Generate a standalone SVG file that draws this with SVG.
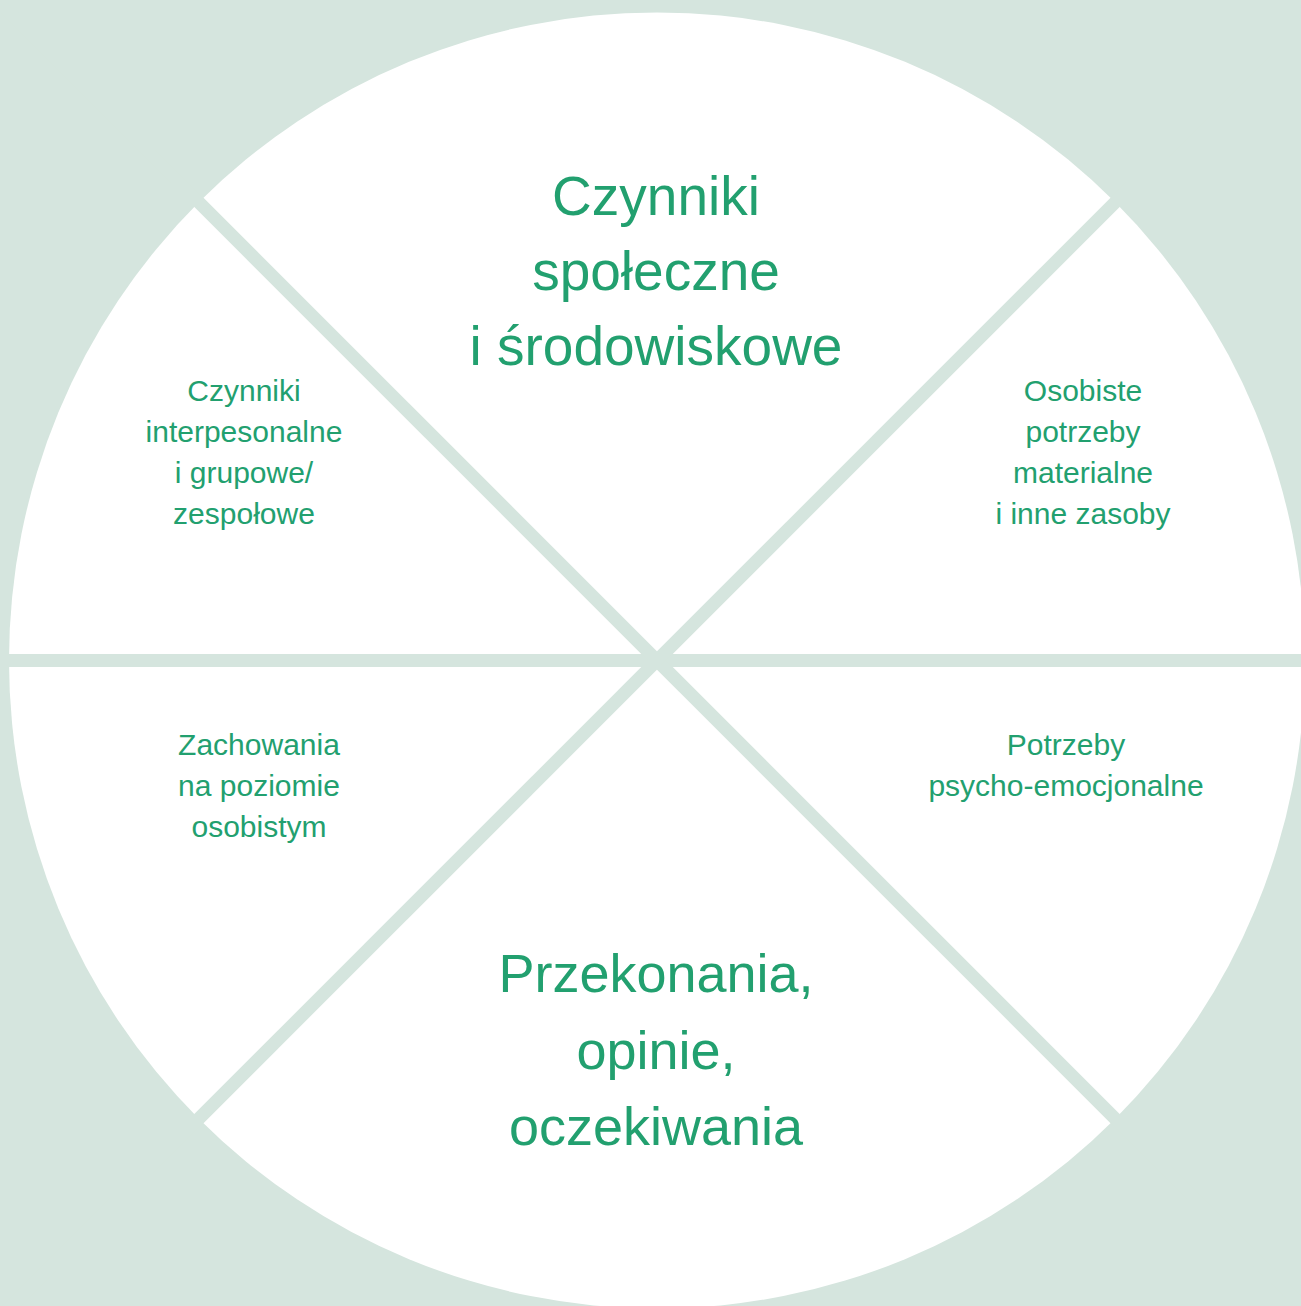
<svg xmlns="http://www.w3.org/2000/svg" width="1301" height="1306" viewBox="0 0 1301 1306">
  <style>
    .bg { fill: #d5e5de; }
    .sep { stroke: #d5e5de; stroke-width: 13; fill: none; }
    .big { font-family: "Liberation Sans", Arial, sans-serif; font-size: 54px; fill: #22a06f; text-anchor: middle; }
    .top { font-size: 55px; }
    .small { font-family: "Liberation Sans", Arial, sans-serif; font-size: 30px; fill: #22a06f; text-anchor: middle; }
  </style>
  <rect class="bg" x="0" y="0" width="1301" height="1306"/>
  <circle id="wheel" cx="657" cy="660.5" r="648" fill="#ffffff"/>
  <g id="connectors">
    <line class="sep" x1="-10" y1="660.5" x2="1320" y2="660.5"/>
    <line class="sep" x1="0" y1="3.5" x2="1314" y2="1317.5"/>
    <line class="sep" x1="1314" y1="3.5" x2="0" y2="1317.5"/>
  </g>
  <g id="node-social">
    <text class="big top" x="656" y="215">Czynniki</text>
    <text class="big top" x="656" y="290">społeczne</text>
    <text class="big top" x="656" y="365">i środowiskowe</text>
  </g>
  <g id="node-interpersonal">
    <text class="small" x="244" y="401">Czynniki</text>
    <text class="small" x="244" y="442">interpesonalne</text>
    <text class="small" x="244" y="483">i grupowe/</text>
    <text class="small" x="244" y="524">zespołowe</text>
  </g>
  <g id="node-material">
    <text class="small" x="1083" y="401">Osobiste</text>
    <text class="small" x="1083" y="442">potrzeby</text>
    <text class="small" x="1083" y="483">materialne</text>
    <text class="small" x="1083" y="524">i inne zasoby</text>
  </g>
  <g id="node-behaviour">
    <text class="small" x="259" y="755">Zachowania</text>
    <text class="small" x="259" y="796">na poziomie</text>
    <text class="small" x="259" y="837">osobistym</text>
  </g>
  <g id="node-psycho">
    <text class="small" x="1066" y="755">Potrzeby</text>
    <text class="small" x="1066" y="796">psycho-emocjonalne</text>
  </g>
  <g id="node-beliefs">
    <text class="big" x="656" y="992">Przekonania,</text>
    <text class="big" x="656" y="1069">opinie,</text>
    <text class="big" x="656" y="1145">oczekiwania</text>
  </g>
</svg>
